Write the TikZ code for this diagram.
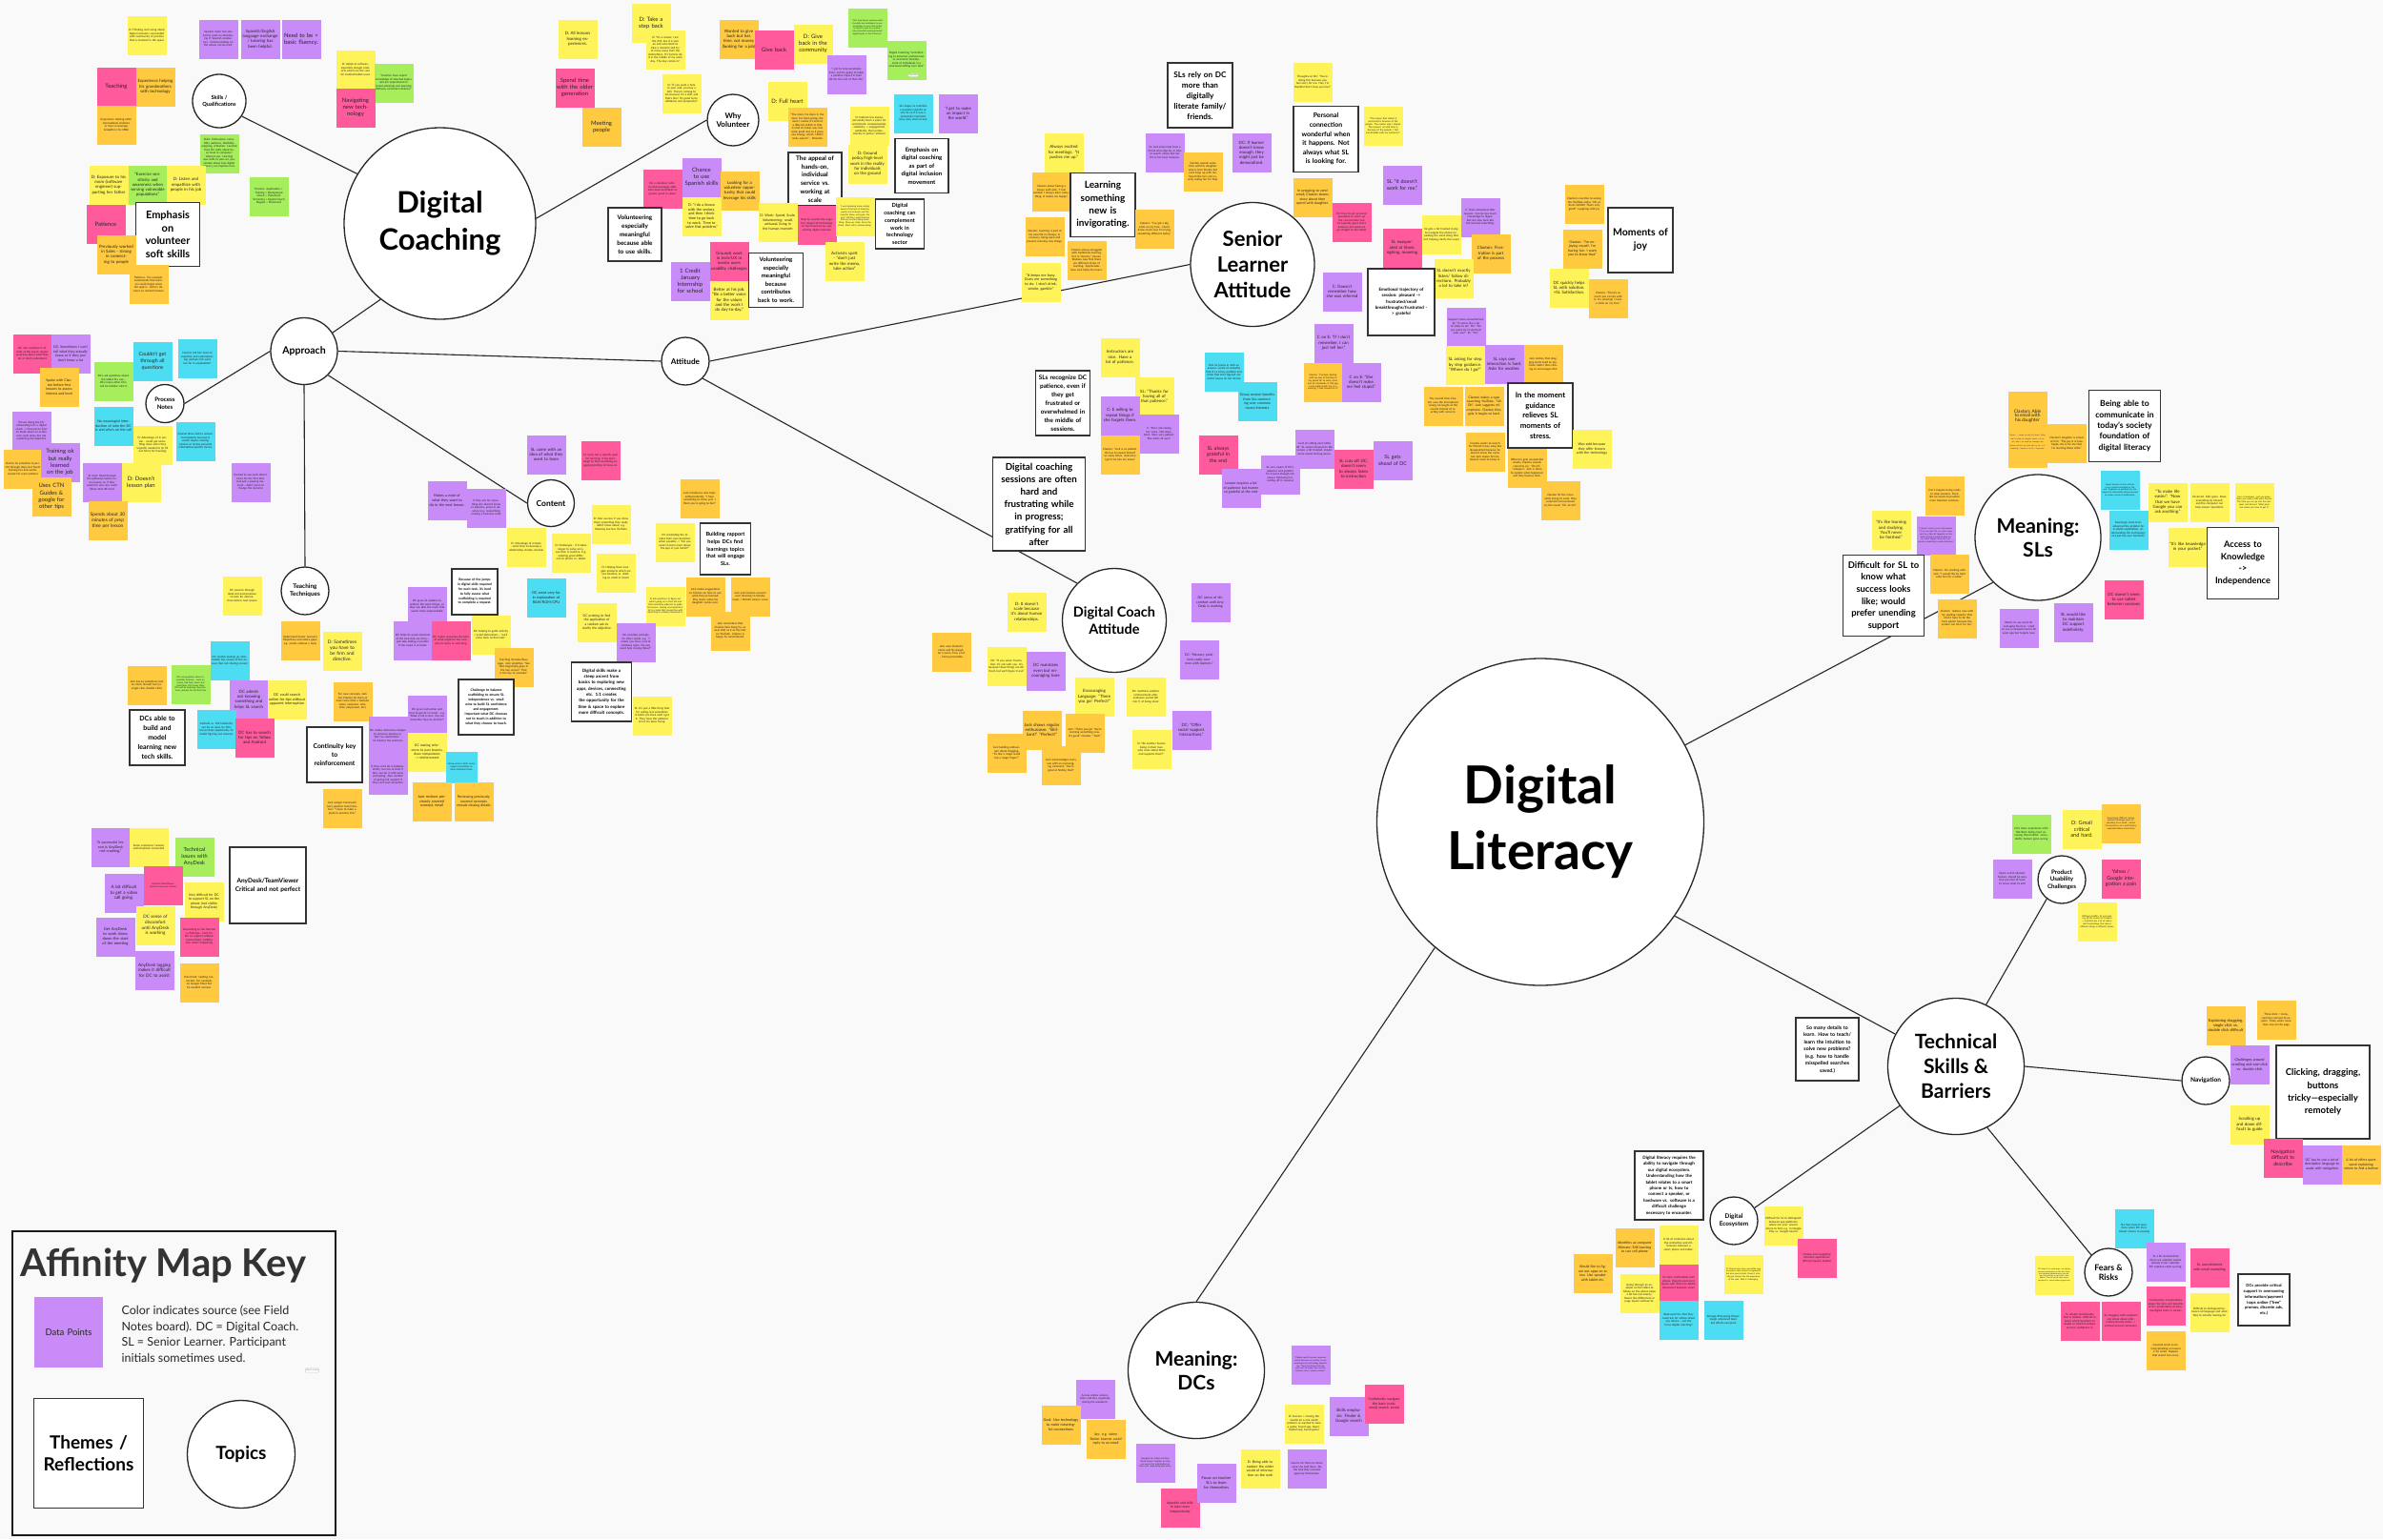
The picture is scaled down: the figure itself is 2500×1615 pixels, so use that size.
\documentclass[tikz,border=0pt]{standalone}
\usepackage{fontspec}
\setmainfont{Lato}
\usepackage{xcolor}
\definecolor{boardbg}{HTML}{F9F9F9}
\definecolor{stickyyellow}{HTML}{FFF35A}
\definecolor{stickyorange}{HTML}{FFC940}
\definecolor{stickypink}{HTML}{FF5A9C}
\definecolor{stickypurple}{HTML}{C98BF7}
\definecolor{stickygreen}{HTML}{A6EE5C}
\definecolor{stickycyan}{HTML}{4CDDF2}

\begin{document}
\begin{tikzpicture}[x=1pt, y=-1pt,
    topic/.style={circle, draw=black!85, line width=1.3pt, fill=white, align=center, inner sep=0pt},
    theme/.style={rectangle, draw=black!80, line width=1.6pt, fill=white, align=center, inner sep=1pt},
    thm/.style 2 args={theme, minimum width=#1pt, minimum height=#1pt, text width=#2pt},
    tf/.style 2 args={font=\bfseries\fontsize{#1}{#2}\selectfont},
    fs/.style 2 args={font=\fontsize{#1}{#2}\selectfont},
    note/.style={rectangle, minimum width=41pt, minimum height=41pt, text width=38pt, inner sep=1.5pt, align=center, text=black!85, font=\fontsize{2.9}{3.5}\selectfont},
    big/.style={font=\fontsize{6}{7.2}\selectfont},
    mid/.style={font=\fontsize{4.4}{5.3}\selectfont},
    yel/.style={note, fill=stickyyellow},
    org/.style={note, fill=stickyorange},
    pnk/.style={note, fill=stickypink},
    pur/.style={note, fill=stickypurple},
    grn/.style={note, fill=stickygreen},
    cyn/.style={note, fill=stickycyan},
    link/.style={draw=black!85, line width=1.1pt}
]
    % Board
    \fill[boardbg] (0,0) rectangle (2500,1615);
    \useasboundingbox (0,0) rectangle (2500,1615);

    % Topics
    \node[topic, minimum size=201pt, tf={31}{39}] (dcoach) at (461.5,234.5) {Digital\\Coaching};
    \node[topic, minimum size=56pt, tf={5.7}{7}] (skills) at (230,106) {Skills /\\Qualifications};
    \node[topic, minimum size=54pt, tf={8}{9.6}] (whyvol) at (769,126) {Why\\Volunteer};
    \node[topic, minimum size=70pt, tf={10.5}{12}] (approach) at (319,368.5) {Approach};
    \node[topic, minimum size=40pt, tf={6.2}{7.6}] (procnotes) at (173,423.5) {Process\\Notes};
    \node[topic, minimum size=50pt, tf={6.4}{8}] (teachtech) at (320,620) {Teaching\\Techniques};
    \node[topic, minimum size=49pt, tf={8.5}{10}] (content) at (578,528) {Content};
    \node[topic, minimum size=50pt, tf={8.2}{10}] (attitude) at (719,379) {Attitude};
    \node[topic, minimum size=130pt, tf={22}{27}] (slatt) at (1314,277.5) {Senior\\Learner\\Attitude};
    \node[topic, minimum size=109pt, tf={14.5}{17.5}] (dcatt) at (1169,651) {Digital Coach\\Attitude};
    \node[topic, minimum size=343pt, tf={55}{69}] (diglit) at (1616,862.5) {Digital\\Literacy};
    \node[topic, minimum size=132pt, tf={21}{25}] (meansl) at (2138,564) {Meaning:\\SLs};
    \node[topic, minimum size=143pt, tf={21}{26}] (techsk) at (2052,1119) {Technical\\Skills \&\\Barriers};
    \node[topic, minimum size=50pt, tf={6.2}{7.4}] (product) at (2163,923) {Product\\Usability\\Challenges};
    \node[topic, minimum size=50pt, tf={6.6}{8}] (navig) at (2314,1134) {Navigation};
    \node[topic, minimum size=50pt, tf={8.8}{10.4}] (fears) at (2212,1335) {Fears \&\\Risks};
    \node[topic, minimum size=50pt, tf={6.4}{8}] (ecosys) at (1819,1281) {Digital\\Ecosystem};
    \node[topic, minimum size=143pt, tf={21}{25}] (meandc) at (1255,1438) {Meaning:\\DCs};

    % Connectors
    \draw[link] (dcoach.149) -- (skills.-34);
    \draw[link] (dcoach.3) -- (whyvol.west);
    \draw[link] (dcoach.232) -- (approach.33);
    \draw[link] (approach.west) -- (procnotes.east);
    \draw[link] (approach.south) -- (teachtech.north);
    \draw[link] (approach.south east) -- (content.west);
    \draw[link] (approach.east) -- (attitude.west);
    \draw[link] (attitude.east) -- (slatt.west);
    \draw[link] (attitude.south east) -- (dcatt.north west);
    \draw[link] (diglit.28) -- (meansl.south west);
    \draw[link] (diglit.-35) -- (techsk.152);
    \draw[link] (diglit.-130) -- (meandc.north);
    \draw[link] (techsk.64) -- (product.-128);
    \draw[link] (techsk.east) -- (navig.west);
    \draw[link] (techsk.-63) -- (fears.north west);
    \draw[link] (techsk.-145) -- (ecosys.32);

    % Skills / qualifications
    \node[yel] (sq1) at (154,37) {D: Thinking and caring about digital inclusion; surrounded with community of practice that is involved in the space};
    \node[pur] (sq2) at (229,41) {Spanish major but also had to work on developing IT Spanish vocabulary. Communicating on the phone can be hard.};
    \node[pur, mid] (sq3) at (273,41) {Spanish/English language exchange / tutoring has been helpful.};
    \node[pur, big] (sq4) at (316,41) {Need to be > basic fluency.};
    \node[pnk, big] (sq5) at (122,91) {Teaching};
    \node[org, mid] (sq6) at (163,91) {Experience helping his grandmothers with technology};
    \node[org] (sq7) at (122,131) {Experience training other international students in how to leverage LinkedIn in his MBA};
    \node[yel] (sq8) at (373,73) {D: Adept at software, especially Google products which are the core for Android tablet users};
    \node[grn] (sq9) at (413,87) {“Coaches have expert knowledge of selected topics and are experienced in lesson planning and Learning Pathway curriculum delivery”};
    \node[pnk, big] (sq10) at (373,113) {Navigating new technology};
    \node[yel, mid] (sq11) at (606,41) {D: All lessons learning experiences.};
    \node[pnk, big] (sq12) at (603,92) {Spend time with the older generation};
    \node[org, big] (sq13) at (631,133) {Meeting people};
    \node[grn] (sq14) at (230,161) {Skills: Enthusiasm, versatility, patience, flexibility, outgoing, articulate. Learned from DC skills about basic level in computer/ internet use. Learning new skills to pass on, passionate about how digital literacy can improve lives};
    \node[yel, mid] (sq15) at (114,194) {D: Exposure to his mom (software engineer) supporting her father};
    \node[grn, mid] (sq16) at (155,194) {“Exercise sensitivity and awareness when serving vulnerable populations”};
    \node[yel, mid] (sq17) at (195,194) {D: Listen and empathize with people in his job};
    \node[grn] (sq18) at (282,206) {Process: Application > Training > Background Check > Placement Screening > Digital Coach Dugout > Placement};
    \node[pnk, big] (sq19) at (111,235) {Patience};
    \node[thm={67}{64}, tf={11}{13.7}] (thsoft) at (176,246) {Emphasis\\on\\volunteer\\soft skills};
    \node[org, mid] (sq20) at (122,267) {Previously worked in Sales - strong in connecting to people};
    \node[org] (sq21) at (156,298) {Patience. For example, understands that learners could forget when the appt is. Calls in advance to remind Claxton.};

    % Why volunteer
    \node[yel, big] (wv1) at (683,24) {D: Take a step back};
    \node[yel] (wv2) at (698,52) {D: “It's a means; I am the drill, but it is also an end unto itself to take a moment and try to move away from the distractions. It's hard to do it in the middle of my work day. The day comes in.”};
    \node[yel] (wv3) at (715,98) {D: “If you want a hole in your wall, you buy a drill. They're coming to me because I'm a drill, and that's fine! It's good to be utilitarian and purposeful.”};
    \node[org, mid] (wv4) at (775,41) {Wanted to give back but has time, not money (looking for a job)};
    \node[pnk, big] (wv5) at (812,52) {Give back};
    \node[yel, big] (wv6) at (853,46) {D: Give back in the community};
    \node[grn, fs={2.2}{2.7}] (wv7) at (910,29) {“DCs help Senior Learners build the skills and confidence to use technology in ways that matter to them, as part of a community of practice working toward digital equity in San Francisco.”};
    \node[grn] (wv8) at (951,63) {Digital Coaching “contributing to personal, professional, or economic development of individuals in a structured setting over time”\\[4pt]};
    \node[draw=black!25, fill=white, rounded corners=0.8pt, inner sep=0.8pt, fs={2}{2.4}, text=black!60] (wvlink) at (958,79) {Open link};
    \node[pur] (wv9) at (888,78) {“I get to help somebody learn, and it's going to make a positive impact in their life for the rest of their life.”};
    \node[yel, big] (wv10) at (826,106) {D: Full heart};
    \node[org] (wv11) at (847,133) {“The more I've done it, the more I've been giving, the more I realize it's kind of a little bit selfish in that it kind of makes you feel really good and so it gives you energy, which I didn't really expect.” - Brandon};
    \node[yel] (wv12) at (912,132) {D: Internet has always personally been a place for enrichment, companionship, solidarity -> engaged him politically, then professionally in policy/ activism};
    \node[cyn] (wv13) at (958,119) {SLs happy to prioritize a question specific to one SL to if it was a personally important issue (pay stub access)};
    \node[pur, mid] (wv14) at (1005,119) {“I get to make an impact in the world.”};
    \node[yel, mid] (wv15) at (910,172) {D: Ground policy/high-level work in the reality for individuals on the ground};
    \node[thm={56}{53}, minimum height=57pt, tf={6.1}{8.4}] (thmove) at (967,174) {Emphasis on\\digital coaching\\as part of\\digital inclusion\\movement};
    \node[thm={56}{53}, tf={6.4}{8.8}] (thappeal) at (855,188) {The appeal of\\hands-on,\\individual\\service vs.\\working at\\scale};
    \node[pnk] (wv16) at (695,198) {Do a volunteer activity that leverages skills and could contribute to greater good in career};
    \node[pur, big] (wv17) at (736,186) {Chance to use Spanish skills};
    \node[org, mid] (wv18) at (776,200) {Looking for a volunteer opportunity that could leverage his skills};
    \node[yel, fs={3.8}{4.7}] (wv19) at (736,227) {D: “I do a lesson with the seniors, and then I think time to go back to work. Time to solve that problem.”};
    \node[thm={56}{53}, tf={6.4}{9}] (thskills) at (666,246) {Volunteering\\especially\\meaningful\\because able\\to use skills.};
    \node[yel, fs={3.6}{4.5}] (wv20) at (816,233) {D: Work: Speed, Scale. Volunteering: small, artisanal, living in the human moment};
    \node[pnk] (wv21) at (857,236) {Help to counter the negative impact of technology on San Francisco by supporting digital inclusion};
    \node[yel, fs={2.3}{2.8}] (wv22) at (897,227) {“I was becoming more acutely aware of the lack of diversity, equity and inclusion and the need for those, and again, the way I felt like I could improve that was to start doing something. Show up. Help. Serve the street. Meet with a human being.”};
    \node[thm={51}{48}, minimum height=52pt, tf={5.7}{7.8}] (thsector) at (944,235) {Digital\\coaching can\\complement\\work in\\technology\\sector};
    \node[yel, mid] (wv23) at (886,274) {Activists spirit - “don't just write the memo, take action”};
    \node[pnk, mid] (wv24) at (765,274) {Grounds work in tech/UX in novice users usability challenges};
    \node[pur, big] (wv25) at (724,295) {1 Credit January Internship for school};
    \node[yel, mid] (wv26) at (765,315) {Better at his job. “Be a better voice for the values and the work I do day-to-day.”};
    \node[thm={57}{54}, tf={6.1}{8.5}] (thback) at (814,294) {Volunteering\\especially\\meaningful\\because\\contributes\\back to work.};

    % Senior learner attitude
    \node[yel, mid] (sa1) at (1116,160) {Always excited for meetings. “It pushes me up.”};
    \node[pur] (sa2) at (1222,160) {SL: Got some help from a friend who stop by or tries to search online but her DC is her best resource.};
    \node[org] (sa3) at (1103,201) {Claxton about having a lesson with Jack, “I feel excited! I always learn something. It makes me happy.”};
    \node[thm={68}{65}, minimum height=67pt, tf={10}{13.3}] (thnew) at (1157,215) {Learning\\something\\new is\\invigorating.};
    \node[org] (sa4) at (1211,240) {Claxton: “I've got a big smile on my face. I don't know much, but I'm trying something different today.”};
    \node[org] (sa5) at (1096,248) {Claxton: Learning is part of his new life in therapy, in recovery, being open and present, learning new things.};
    \node[org] (sa6) at (1140,273) {Claxton always struggled with traditional learning. Put in “dummy” classes. Realizes now that there are different styles of learning. Appreciates how Jack helps him learn.};
    \node[yel, fs={3.8}{4.7}] (sa7) at (1092,296) {“It keeps me busy. Gives me something to do. I don't drink, smoke, gamble.”};
    \node[thm={68}{65}, tf={8.2}{11}] (threly) at (1259,100) {SLs rely on DC\\more than\\digitally\\literate family/\\friends.};
    \node[yel] (sa8) at (1377,86) {Thoughts on DC: “You're doing this because you feel sorry for me. Hey, I'm thankful that's how you feel.”};
    \node[thm={68}{65}, minimum height=69pt, tf={6.9}{9.6}] (thpersonal) at (1391,146) {Personal\\connection\\wonderful when\\it happens. Not\\always what SL\\is looking for.};
    \node[yel, fs={2.5}{3}] (sa9) at (1451,132) {“The reason that makes it successful is because of the people. The reason why I stayed. The reason I am still here is because of the people. I feel comfortable with my instructor.”};
    \node[pur, mid] (sa10) at (1313,160) {DC: If learner doesn't know enough, they might just be demoralized.};
    \node[org] (sa11) at (1262,180) {Claxton spends some time with his daughter who is tech literate but can't keep up with her. Sound like he's not exactly asking her for help.};
    \node[org, fs={3.6}{4.4}] (sa12) at (1377,207) {In prepping to send email, Claxton shares story about time spend with daughter.};
    \node[pnk] (sa13) at (1418,233) {DC tries to ask personal questions to warm up the conversation, but SL typically gives short answers and wants to go straight to the tablet};
    \node[pur, fs={5.4}{6.5}] (sa14) at (1471,194) {SL “it doesn't work for me.”};
    \node[pur] (sa15) at (1553,228) {C. Feels exhausted after lessons. Can be too much knowledge to digest. But she also feels like she learned something.};
    \node[yel] (sa16) at (1512,246) {SL gets a bit frazzled trying to navigate the phone (repeating the same thing that isn't helping clarify the issue)};
    \node[pnk, mid] (sa17) at (1471,260) {SL exasperated at times: sighing, moaning};
    \node[org, mid] (sa18) at (1564,266) {Claxton: Frustration is part of the process};
    \node[yel, mid] (sa19) at (1525,292) {SL doesn't exactly listen/ follow directions. Probably a lot to take in?};
    \node[pur, mid] (sa20) at (1408,306) {C: Doesn't remember how she was referred};
    \node[thm={70}{67}, tf={4.5}{6.3}] (themotion) at (1470,317) {Emotional trajectory of\\session: pleasant ->\\frustrated/small\\breakthroughs/frustrated -\\> grateful};
    \node[org] (sa21) at (1662,214) {Claxton's reaction to seeing the YouTube video, “Oh ya that's GOOD! That's very good!” Laughing with joy};
    \node[org, fs={3.6}{4.5}] (sa22) at (1660,261) {Claxton: “I'm enjoying myself. I'm having fun. I want you to know that.”};
    \node[thm={68}{65}, tf={10.5}{14}] (thjoy) at (1721,252) {Moments of\\joy};
    \node[yel, mid] (sa23) at (1646,302) {DC quickly helps SL with solution. +SL Satisfaction.};
    \node[org] (sa24) at (1687,313) {Claxton: “There's so much you can do with it. It's amazing! I have a smile on my face.”};
    \node[pur] (sa25) at (1538,343) {Support when overwhelmed: SL: “It seems like a lot of steps to do.” DC: “Do you want me to do them with you?” SL: “Yes.”};
    \node[cyn] (sa26) at (1284,390) {One SL jumps in with an answer—sense of empathy that it's a tricky problem and pride that she's figured out similar issues on her device};
    \node[cyn, fs={3.6}{4.5}] (sa27) at (1319,421) {Group session benefits from SLs connecting over common issues/interests};
    \node[pur, mid] (sa28) at (1399,360) {C on E: “If I don't remember, I can just tell her.”};
    \node[org, fs={2.4}{2.9}] (sa29) at (1388,401) {Claxton: “I've been dealing with my way of learning at my speed for so many years and for somebody at that age to be patient with me, it is amazing. I look forward to it.”};
    \node[pur, mid] (sa30) at (1428,401) {C on E: “She doesn't make me feel stupid.”};
    \node[yel, mid] (sa31) at (1537,383) {SL asking for step by step guidance. “Where do I go?”};
    \node[pur, mid] (sa32) at (1578,382) {SL says one interaction is hard. Asks for another.};
    \node[org] (sa33) at (1619,382) {Jack notices that dragging lends itself to precision better than clicking so encourages that};
    \node[org] (sa34) at (1514,426) {The second time Claxton uses the microphone wrong, he laughs at the results instead of reacting with concern.};
    \node[org, fs={3.4}{4.3}] (sa35) at (1557,426) {Claxton makes a typo searching YouTube. “Uh Oh”. Jack suggests microphone. Claxton tries, gets it laughs so hard.};
    \node[thm={68}{65}, tf={7.8}{10.8}] (thstress) at (1616,436) {In the moment\\guidance\\relieves SL\\moments of\\stress.};
    \node[yel, fs={3.6}{4.5}] (sa36) at (1670,471) {Was sold because they offer lessons with the technology};
    \node[org] (sa37) at (1558,474) {Claxton wants to search for Mariah Carey song but disappointed because he doesn't know the name but Jack shows him he doesn't need to know it.};
    \node[org] (sa38) at (1602,491) {When he gets unexpected results, Claxton sounds concerns (i.e. “Uh oh”, “whoops”). Jack is there to explain what happened, and they bounce back.};
    \node[org] (sa39) at (1637,525) {Claxton hit the menu while trying to send. Was surprised and confused by the result, “Oh uh oh!”};
    \node[pnk, fs={5.3}{6.5}] (sa40) at (1278,477) {SL always grateful in the end};
    \node[pur] (sa42) at (1379,471) {A lot of cutting each other off. SL seems focused on the screen, a bit frazzled, maybe some sound and lag issues.};
    \node[pur] (sa41) at (1343,498) {SL very aware of DC's patience and grateful for it (even though not always following her, cutting off in lessons)};
    \node[pur, fs={3.6}{4.5}] (sa43) at (1302,512) {Lesson requires a lot of patience but learner so grateful at the end.};
    \node[pnk, mid] (sa44) at (1420,492) {SL cuts off DC; doesn't seem to always listen to instruction};
    \node[pur, fs={5.3}{6.5}] (sa45) at (1461,483) {SL gets ahead of DC};

    % Patience
    \node[yel, mid] (pt1) at (1175,375) {Instructors are nice. Have a lot of patience.};
    \node[thm={57}{54}, minimum height=68pt, tf={6.4}{9}] (thpatience) at (1115,423) {SLs recognize DC\\patience, even if\\they get\\frustrated or\\overwhelmed in\\the middle of\\sessions.};
    \node[yel, mid] (pt2) at (1211,416) {SL: “Thanks for having all of that patience.”};
    \node[pur, mid] (pt3) at (1175,436) {C: E willing to repeat things if she forgets them.};
    \node[pur] (pt4) at (1216,455) {C: “She's not raising her voice. Not impatient. She's very patient. She starts all over.”};
    \node[org] (pt5) at (1175,477) {Claxton: “Jack is so patient. He has to repeat himself so many times. And once I get it he lets me know.”};
    \node[thm={97}{94}, minimum height=98pt, tf={9.8}{13.2}] (thhard) at (1090,529) {Digital coaching\\sessions are often\\hard and\\frustrating while\\in progress;\\gratifying for all\\after};

    % Approach and process notes
    \node[pnk] (ap1) at (34,371) {DC not confident in SL skills at the onset; regular surprises about what they do or don't understand};
    \node[pur, fs={3.6}{4.5}] (ap2) at (74,371) {DC: Sometimes I can't tell what they actually know or if they just don't know a lot};
    \node[org, fs={3.6}{4.5}] (ap3) at (62,406) {Spoke with Claxton before first lessons to assess interest and level};
    \node[grn] (ap4) at (119,400) {DCs ask questions about the tablet SLs use - DCs know other DCs will be familiar with it};
    \node[cyn, fs={5.3}{6.6}] (ap5) at (160,379) {Couldn't get through all questions};
    \node[cyn] (ap6) at (207,376) {Hard to tell SLs' level of expertise and understanding; perhaps DC went too far in explanation?};
    \node[pur] (ap7) at (33,452) {Person doing the DC onboarding isn't a digital coach -> focused on how to break down an action into small steps but not explaining the objective};
    \node[org] (ap8) at (24,492) {Had to be proactive to persist through steps but found training fun and useful, except for scam webinar};
    \node[pur, big] (ap9) at (63,485) {Training ok but really learned on the job};
    \node[org, big] (ap10) at (54,521) {Uses CTN Guides \& google for other tips};
    \node[cyn, fs={3.6}{4.5}] (ap11) at (119,447) {No meaningful introduction of who the DC is and who's on the call};
    \node[yel] (ap12) at (160,467) {D: Advantage of in person - could get something done when they urgently needed to (ie fill out forms for housing)};
    \node[cyn] (ap13) at (205,463) {Several times had to answer incompletely because it would require sharing screens or review personal information/specific device};
    \node[pur] (ap14) at (107,506) {To start: Read through the pathways before every lesson, so if they asked for one, she could follow that off-hand};
    \node[yel, big] (ap15) at (148,506) {D: Doesn't lesson plan};
    \node[org, fs={4.8}{5.8}] (ap16) at (113,546) {Spends about 30 minutes of prep time per lesson};
    \node[pur] (ap17) at (263,506) {Excited to see each other's faces for the first time but just a passing moment - didn't seem to change the dynamic};

    % Content
    \node[pur, mid] (ct1) at (573,477) {SL came with an idea of what they want to learn};
    \node[pnk] (ct2) at (630,483) {SL rarely has a specific goal for learning; it has been tough to find something engaging/exciting to focus on};
    \node[pur, fs={3.8}{4.7}] (ct3) at (469,525) {Makes a note of what they want to do in the next lesson.};
    \node[pur] (ct4) at (510,533) {If they ask for something she doesn't know in advance, preps in advance (e.g. researching making a business card)};
    \node[yel] (ct5) at (552,574) {D: Advantage of remote - more time to develop a relationship, iterate, durable};
    \node[yel] (ct6) at (599,580) {D: Challenges - if it takes longer to solve an issue than it could've. E.g. realizing great different on phone vs. tablet};
    \node[yel] (ct7) at (641,550) {D: Also success if you show them something they really didn't know about, e.g. Showing learners YouTube};
    \node[org] (ct8) at (734,523) {Jack introduces new topic enthusiastically. “I have something to show you! I think you're going to like!”};
    \node[yel] (ct9) at (708,569) {DC prompting SLs to make their own decisions when possible -> “Do you want to learn more about the app or just install?”};
    \node[thm={53}{50}, minimum height=54pt, tf={5.6}{7.6}] (thrapport) at (761,576) {Building rapport\\helps DCs find\\learnings topics\\that will engage\\SLs.};
    \node[yel] (ct10) at (646,601) {D: Helping them navigate products which are not intuitive, ie. drafting an email in Gmail};
    \node[yel, fs={2.4}{2.9}] (ct11) at (698,636) {D: Ask questions to figure out what's going on in their life and find something adjacent to guide the lesson. Having unscripted better to create that connection with what they're actually interested in.};
    \node[org] (ct12) at (740,626) {Jack makes suggestions to Claxton on how to use what they've learned: Play music when his daughter comes over.};
    \node[org] (ct13) at (787,626) {Jack and Claxton connect over listening to holiday music / Mariah Carey's voice};
    \node[org] (ct14) at (766,662) {Jack remembers that Claxton likes Kung Fu, so uses that as it as the test on YouTube. Claxton is happy he remembered.};
    \node[yel, fs={3.4}{4.3}] (ct16) at (626,653) {DC probing to find the application of a random ask to clarify the objective};
    \node[pur] (ct15) at (667,674) {DC provides prompts for other needs, e.g. “I notice you have a lot of windows open. Do you need help closing those?”};
    \node[thm={63}{60}, minimum height=62pt, tf={4.5}{6.3}] (thascent) at (631,726) {Digital skills make a\\steep ascent from\\basics to exploring new\\apps, devices, connecting\\etc. 1:1 creates\\the opportunity for the\\time \& space to explore\\more difficult concepts.};
    \node[yel] (ct17) at (684,751) {SL: It's just a little thing that I'm asking, but sometimes it holds you back until I get it. They have the patience to let me keep trying.};
    \node[cyn, fs={3.8}{4.7}] (ct18) at (573,627) {DC went very far in explanation of RAM/ROM/CPU};
    \node[thm={48}{46}, tf={3.4}{4.8}] (thjumps) at (498,621) {Because of the jumps\\in digital skills required\\for each task, it's hard\\to fully assess what\\scaffolding is required\\to complete a request.};
    \node[pur] (ct19) at (448,636) {DC gives SL options to achieve the same things, so they can take the route that seems more approachable};
    \node[pur] (ct20) at (433,672) {DC helps SL avoid elements of the task that are tricky - just skip adding a location if the event is at home};
    \node[pnk] (ct21) at (473,672) {DC makes conscious decision of what might be too complex to learn, ie searching};
    \node[yel] (ct22) at (515,666) {DC helping to guide activity / avoid distractions - “we'll come back to that later.”};
    \node[org] (ct23) at (539,700) {Teaching Youtube Busy page. Jack simplifies, “See that magnifying glass in the top corner? That is the key to youtube.”};
    \node[thm={58}{56}, tf={3.5}{5.1}] (thbalance) at (510,742) {Challenge to balance\\scaffolding to ensure SL\\independence vs. small\\wins to build SL confidence\\and engagement.\\Important what DC chooses\\not to teach in addition to\\what they choose to teach.};

    % Teaching techniques
    \node[yel] (tt1) at (254,625) {DC persists through dead end and promises to look for alternatives before next lesson};
    \node[org] (tt2) at (315,672) {Understand Senior Learner's Objectives and notice gaps: e.g. emails without a reply};
    \node[yel, fs={4.9}{6}] (tt3) at (359,683) {D: Sometimes you have to be firm and directive.};
    \node[cyn] (tt4) at (241,693) {DC models looking up information but unsure of the answer (but not sharing screen)};
    \node[org] (tt5) at (154,719) {Jack has to sometimes test to check himself too (i.e. single click, double click)};
    \node[grn, fs={2.3}{2.8}] (tt6) at (200,718) {DCs ask questions about accessibility features - voice assistant, talk back, touch and hold delay. DCs know other DCs will be exploring these features, perhaps for the first time};
    \node[pur, mid] (tt7) at (261,734) {DC admits not knowing something and helps SL search};
    \node[yel, fs={3.8}{4.7}] (tt8) at (301,734) {DC could search online for tips without apparent interruption};
    \node[cyn] (tt9) at (227,765) {Android vs. iOS familiarity can be an issue for DCs but perhaps opportunity to model figuring out answers};
    \node[pnk, mid] (tt10) at (267,774) {DC has to search for tips on Yahoo and Android};
    \node[thm={58}{56}, tf={7}{9.8}] (thmodel) at (165,774) {DCs able to\\build and\\model\\learning new\\tech skills.};
    \node[org] (tt11) at (370,736) {For new concepts, Jack has Claxton do them at least twice (find a YouTube video, maximize, minimize, play/pause, etc.)};
    \node[thm={58}{56}, tf={6.8}{9.3}] (thcontinuity) at (351,792) {Continuity key\\to\\reinforcement};
    \node[org] (tt12) at (359,848) {Jack assigns homework (very positive tone) Claxton: “I have to make a point to practice this.”};
    \node[pur] (tt13) at (448,750) {DC gives instruction and tries to get SL to recall - e.g. “Make a full screen. Do you remember how to do that?”};
    \node[pur] (tt14) at (407,772) {DC makes references/nudges to previous lessons, ie. “like I've said before.” - SL finishes the sentence};
    \node[yel, fs={3.4}{4.3}] (tt15) at (448,789) {DC making references to past lessons, draw comparisons -> reinforcement};
    \node[pur] (tt16) at (407,813) {If they can't do it independently, success at least if they can do it with some prompting. Also mindful of giving full support if they can't just remember};
    \node[cyn, minimum width=33pt, minimum height=33pt, text width=30pt, fs={2.4}{2.9}] (tt17) at (484,805) {Group session limits social support and ability to solve individual issues};
    \node[org, fs={3.8}{4.7}] (tt18) at (453,841) {Jack reviews previously covered concept, email};
    \node[org, fs={3.6}{4.5}] (tt19) at (497,841) {Reviewing previously covered concepts reveals missing details};

    % AnyDesk
    \node[pur, fs={3.8}{4.7}] (ad1) at (116,889) {“A successful lesson is AnyDesk not crashing.”};
    \node[yel] (ad2) at (156,889) {Some confusion/ tension until AnyDesk connected};
    \node[grn, fs={5.6}{6.8}] (ad3) at (204,899) {Technical issues with AnyDesk};
    \node[pnk, fs={2.4}{2.9}] (ad4) at (171,929) {AnyDesk/TeamViewer technical issues \& friction\\[8pt]};
    \node[pur, fs={4.6}{5.6}] (ad5) at (130,937) {A bit difficult to get a video call going.};
    \node[yel, fs={3.5}{4.4}] (ad6) at (214,946) {Very difficult for DC to support SL on the phone (not visible through AnyDesk)};
    \node[yel, fs={4.6}{5.6}] (ad7) at (163,971) {DC sense of discomfort until AnyDesk is working};
    \node[pur, fs={4.1}{5.1}] (ad8) at (121,983) {Get AnyDesk to work slows down the start of the meeting};
    \node[pnk] (ad9) at (209,983) {Connecting to the internet a challenge - hard for DC to support without connectivity/ visibility into what's happening};
    \node[pur, fs={4.6}{5.6}] (ad10) at (162,1018) {AnyDesk lagging makes it difficult for DC to assist};
    \node[org] (ad11) at (209,1031) {Pain Point: Getting connected. For example, on Google Meet but SL couldn't unmute.};
    \node[thm={80}{77}, tf={6.5}{8.6}] (thanydesk) at (281,929) {AnyDesk/TeamViewer\\Critical and not perfect};

    % Digital coach attitude
    \node[yel, mid] (da1) at (1077,642) {D: It doesn't scale because it's about human relationships.};
    \node[org] (da2) at (998,684) {Jack uses Claxton's name and his daughter's name, Tara, a lot -- Feels personable.};
    \node[yel] (da3) at (1056,699) {DC: “If you sense frustration, it's not with you. It's because these things are difficult, but we'll figure it out.”};
    \node[pur, mid] (da4) at (1097,704) {DC maintains even but encouraging tone};
    \node[yel, mid] (da5) at (1148,731) {Encouraging Language: “There you go! Perfect!”};
    \node[yel] (da6) at (1202,731) {DC maintains positive reinforcement after extensive period (40 min.?) of being stuck};
    \node[org, mid] (da7) at (1093,766) {Jack shows regular enthusiasm. “Brilliant!” “Perfect!”};
    \node[org] (da8) at (1138,769) {Jack, “There you go! You're learning something new. It's great” Claxton: “Yeah”};
    \node[org] (da9) at (1056,790) {Jack building enthusiasm about dragging. “It's like a magic wand but a magic finger!”};
    \node[org] (da10) at (1113,803) {Jack acknowledges every win with an encouraging comment, “You're good at finding that!”};
    \node[yel] (da11) at (1208,786) {D: “Be another human being in their lives who cares about them and supports them?”};
    \node[pur, mid] (da12) at (1250,766) {DC: “Offer social support. Interactions.”};
    \node[pur, fs={3.4}{4.3}] (da13) at (1258,692) {DC: “Memory problems really common with learners.”};
    \node[pur, fs={3.6}{4.5}] (da14) at (1270,632) {DC sense of discomfort until AnyDesk is working};

    % Meaning: SLs
    \node[org, minimum height=80pt] (ms1) at (2127,451) {{\fontsize{4.8}{5.9}\selectfont Claxton: Able to email with his daughter}\\[12pt]{\fontsize{1.7}{2.1}\selectfont Claxton: “I caught up with the lesson. Being able to email my daughter means a lot to me. Now I can send her messages and pictures and she can write back to me. It is something I wanted to do for a long time.”}\\[4pt]};
    \node[org] (ms2) at (2168,465) {Claxton's daughter is proud of him: “The joy is in how happy she is for me that I'm learning these skills.”};
    \node[thm={75}{72}, tf={8.6}{11.4}] (thsociety) at (2229,447) {Being able to\\communicate in\\today's society\\foundation of\\digital literacy};
    \node[org] (ms3) at (2040,520) {Can't imagine being ready to stop sessions. Feels like he needs to practice more between sessions.};
    \node[yel, mid] (ms4) at (1984,556) {“It's like learning and studying. You'll never be finished.”};
    \node[pur, fs={2.2}{2.7}] (ms5) at (2031,562) {C doesn't want to ever stop lessons. “I'm in my mid-70s, so I learn slow, and I'm a little bit forgetful, so this kind of thing is good to keep up, so I don't forget. Each day I encounter something I could ask Emma.”};
    \node[org] (ms6) at (2045,602) {Claxton: On working with Jack, “I would like to hold onto him for a while.”};
    \node[org] (ms7) at (2053,649) {Claxton: realizes now with my spelling capacity that I don't have to be the best speller because the system can do it for me.”};
    \node[thm={85}{82}, tf={9.4}{12.6}] (thsuccess) at (1976,625) {Difficult for SL to\\know what\\success looks\\like; would\\prefer unending\\support};
    \node[pur] (ms8) at (2118,659) {Wants to use excel for managing finances. Used to use a computer/excel 10 years ago but forgets now.};
    \node[pur, mid] (ms9) at (2175,653) {SL would like to maintain DC support indefinitely.};
    \node[pnk, mid] (ms10) at (2228,629) {DC doesn't seem to use tablet between sessions};
    \node[cyn, fs={2.2}{2.7}] (ms11) at (2224,514) {Quest learners on the call had a very positive reception at the end. Emphasis on gratitude for the amount of information shared seemed to create a sense of satisfaction.};
    \node[cyn] (ms12) at (2233,556) {Seemingly more tech-advanced SLs grateful for in-depth explanation, understanding the technology, not just the user functions.};
    \node[yel, mid] (ms13) at (2274,527) {“To make life easier”. “Now that we have Google you can ask anything.”};
    \node[yel] (ms14) at (2318,527) {Divorced. Kids gone. Does everything by himself, and the computer can help answer questions.};
    \node[yel, fs={2.3}{2.8}] (ms15) at (2365,527) {He's a handyman - but you sometimes you need a little more finesse. The time you can go into the computer and find out. What parts and where you have to get it.”};
    \node[yel, mid] (ms16) at (2295,574) {“It's like knowledge in your pocket.”};
    \node[thm={75}{72}, tf={9.2}{12.4}] (thaccess) at (2353,591) {Access to\\Knowledge\\->\\Independence};

    % Product usability
    \node[grn] (pu1) at (2131,875) {DCs share experience with Talk Back being more annoying than helpful: accessibility feature gone wrong};
    \node[yel, fs={5.6}{6.8}] (pu2) at (2184,870) {D: Gmail critical and hard.};
    \node[org, fs={2.3}{2.8}] (pu3) at (2225,864) {Surprisingly difficult: Seeing previous message when responding to an email / where to respond to an e-mail (history expanded below unintuitive)};
    \node[pur] (pu4) at (2111,922) {Quick event calendar feature, should be easy but you kind of have to know what to add};
    \node[pnk, fs={5.3}{6.5}] (pu5) at (2225,922) {Yahoo / Google integration a pain};
    \node[yel, fs={2.3}{2.8}] (pu6) at (2200,967) {Without visibility, SL just reading off the screen isn't helpful -> interface has a lot of redundant terminology that means different things in different places};

    % Navigation
    \node[org, fs={4.1}{5.1}] (nv1) at (2335,1076) {Explaining dragging, single click vs. double click difficult};
    \node[org] (nv2) at (2388,1070) {Three dots = menu, common concept to explain. Tricky when more than one on the page};
    \node[pur, fs={3.8}{4.7}] (nv3) at (2360,1117) {Challenges around scrolling and one-click vs. double-click};
    \node[thm={98}{95}, tf={9.6}{13.3}] (thclicking) at (2437,1146) {Clicking, dragging,\\buttons\\tricky—especially\\remotely};
    \node[yel, fs={4.4}{5.6}] (nv4) at (2360,1180) {Scrolling up and down difficult to guide};
    \node[pnk, fs={5.3}{6.6}] (nv5) at (2395,1215) {Navigation difficult to describe};
    \node[pur, fs={3.5}{4.5}] (nv6) at (2436,1222) {DC has to use a lot of descriptive language to assist with navigation};
    \node[org, fs={3.5}{4.5}] (nv7) at (2477,1222) {A lot of effort spent spent explaining where to find a button};
    \node[thm={66}{63}, tf={5.2}{7.5}] (thdetails) at (1917,1101) {So many details to\\learn. How to teach/\\learn the intuition to\\solve new problems?\\(e.g. how to handle\\misspelled searches\\saved.)};

    % Fears and risks
    \node[cyn] (fr1) at (2239,1289) {SLs had several questions when DC mentioned viruses in passing};
    \node[yel, fs={1.9}{2.3}] (fr2) at (2155,1338) {DC helps SL to avoid traps: was adding payment information on the Play Store, was selecting advertisement; was doing a free trial on an app with a free option. The UX on the traps favors payment (i.e. cancel button greyed out)};
    \node[pur] (fr3) at (2272,1324) {SL a bit alarmed that there are calendar events already in her calendar. DC explains email syncing.};
    \node[pnk, fs={3.6}{4.5}] (fr4) at (2318,1330) {SL overwhelmed with email marketing};
    \node[pnk] (fr5) at (2182,1386) {SL doubts functionality that is reliable. Difficult to teach which functions to doubt or which functions to have confidence in.};
    \node[pnk] (fr6) at (2225,1386) {SL struggles with suspicion and stress about information shared online -> inclined toward conspiracy};
    \node[pnk] (fr7) at (2272,1370) {Constructive conversations about the risks and benefits of the proliferation of internet/digital tools in society};
    \node[yel] (fr8) at (2318,1377) {Difficult to distinguish between ad language and what they're actually looking for};
    \node[org] (fr9) at (2272,1417) {Covered email scamming/phishing on lesson 2 on email. Happen that wasn't too scary.};
    \node[thm={54}{51}, tf={4.2}{5.8}] (thtraps) at (2375,1364) {DCs provide critical\\support in overcoming\\information/payment\\traps online (“free”\\promos, discrete ads,\\etc.)};

    % Digital ecosystem
    \node[thm={72}{69}, tf={4.5}{6.4}] (thecosys) at (1751,1244) {Digital literacy requires the\\ability to navigate through\\our digital ecosystem.\\Understanding how the\\tablet relates to a smart\\phone or tv, how to\\connect a speaker, or\\hardware vs. software is a\\difficult challenge\\necessary to encounter.};
    \node[org, fs={3.6}{4.5}] (ec1) at (1715,1309) {Identifies as computer illiterate; Still learning to use cell phone};
    \node[yel] (ec2) at (1761,1306) {A lot of confusion about the similarities and differences between a smart phone and tablet.};
    \node[org, fs={3.6}{4.5}] (ec3) at (1671,1336) {Would like to figure out apps on tv too. Use speaker with tablet etc.};
    \node[yel] (ec4) at (1720,1357) {Going through an example on the tablet to follow on the phone helps a bit but not exactly. Seems like differences in page layout confuse SL.};
    \node[pnk, minimum height=38pt] (ec5) at (1761,1346) {SL more comfortable with phone. Reports persistent issues with Zoom on tablet; disconnect between email};
    \node[cyn] (ec6) at (1761,1385) {Reassured SLs that they could ask for advice about any device -- not the focus digital coaching?};
    \node[cyn] (ec7) at (1808,1385) {Storage/Processing Power: tough, advanced topic but affects everyone};
    \node[yel, fs={2.2}{2.7}] (ec8) at (1829,1337) {D: Touchscreen more accessible; app ecosystem safer (easier to approach) but also more limited. Doesn't actually give Seniors the full experience of the web. Web is challenging.};
    \node[yel] (ec9) at (1871,1286) {Difficult for SL to distinguish between app platforms: where are you? answer where to find, e.g. in Google Play vs. Google Search};
    \node[pnk] (ec10) at (1906,1320) {Closing and navigating between applications difficult (square button)};

    % Meaning: DCs
    \node[pur] (md1) at (1149,1468) {Access online connections and ties, especially during the pandemic.};
    \node[org, fs={3.8}{4.7}] (md2) at (1113,1495) {Goal: Use technology to make meaningful connections};
    \node[org, fs={3.6}{4.5}] (md3) at (1160,1510) {Joy: e.g. when Senior Learner could reply to an email};
    \node[pur, fs={2.3}{2.8}] (md4) at (1212,1535) {Navigate the tablet and then Gmail, Zoom, YouTube, so they can search for information on their own. Everything else extra.};
    \node[pnk, fs={3.4}{4.3}] (md5) at (1238,1582) {Appetite and skills to learn more independently};
    \node[pur, fs={2.2}{2.7}] (md6) at (1375,1432) {“People need to access resources online because our society is ever evolving to be technology depending. There are things that you just can't do unless you use the internet, have a phone number.”};
    \node[yel] (md7) at (1368,1494) {D: Success = moving the needle on a real world problem, ie wanted to tune a guitar, found app, downloaded app, tuned guitar};
    \node[pur, fs={4.4}{5.5}] (md8) at (1415,1486) {Skills emphasis: Finder \& Google search};
    \node[pnk, fs={3.6}{4.5}] (md9) at (1452,1473) {Confidently navigate the basic tools: email, search, social};
    \node[yel, fs={3.6}{4.5}] (md10) at (1322,1541) {D: Being able to explore the wider world of information on the web};
    \node[pur] (md11) at (1371,1541) {Goal is for them to retain what she told them. Do the task they covered again by themselves.};
    \node[pur, fs={4}{5}] (md12) at (1276,1556) {Focus on teacher SL's to learn for themselves};

    % Affinity map key
    \node[draw=black!90, line width=2.6pt, minimum width=339pt, minimum height=319pt, inner sep=0pt] (keyframe) at (182.5,1451.5) {};
    \node[anchor=west, text=black!80, tf={40}{48}] (keytitle) at (18,1328) {Affinity Map Key};
    \node[pur, minimum width=72pt, minimum height=74pt, text width=69pt, fs={9.5}{11}] (keydata) at (72,1398) {Data Points};
    \node[anchor=north west, align=left, text=black!85, fs={12.5}{16.8}] (keytext) at (124,1366) {Color indicates source (see Field\\Notes board). DC = Digital Coach.\\SL = Senior Learner. Participant\\initials sometimes used.};
    \node[draw=black!20, fill=white, rounded corners=1pt, inner sep=1pt, fs={2.4}{2.8}, text=black!50] (keylink) at (327.5,1438) {Open mural};
    \node[theme, line width=1.2pt, minimum width=115pt, minimum height=115pt, text width=110pt, tf={19}{23}] (keytheme) at (93,1525) {Themes /\\Reflections};
    \node[topic, minimum size=113pt, tf={19}{23}] (keytopic) at (253,1526) {Topics};
\end{tikzpicture}
\end{document}
